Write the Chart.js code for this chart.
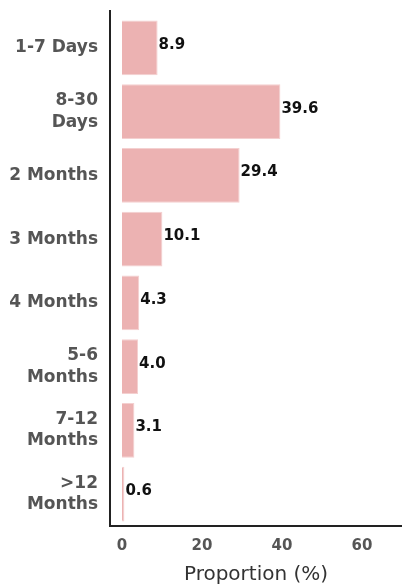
<!DOCTYPE html>
<html>
<head>
<meta charset="utf-8">
<script src="https://cdn.jsdelivr.net/npm/chart.js@4/dist/chart.umd.min.js"></script>
<style>
  html, body { margin: 0; padding: 0; background: #fff; }
  #wrap { width: 402px; height: 587px; position: relative; }
</style>
</head>
<body>
<div id="wrap"><canvas id="barChart"></canvas></div>
<script>
// data
var categories = [['1-7 Days'], ['8-30', 'Days'], ['2 Months'], ['3 Months'], ['4 Months'], ['5-6', 'Months'], ['7-12', 'Months'], ['>12', 'Months']];
var proportions = [8.9, 39.6, 29.4, 10.1, 4.3, 4.0, 3.1, 0.6];
var xTicks = [0, 20, 40, 60];

// value labels at the end of each bar
var valueLabels = {
  id: 'valueLabels',
  afterDatasetsDraw: function (chart) {
    var ctx = chart.ctx;
    var meta = chart.getDatasetMeta(0);
    ctx.save();
    ctx.fillStyle = '#111';
    ctx.font = 'bold 15px "DejaVu Sans"';
    ctx.textAlign = 'left';
    ctx.textBaseline = 'middle';
    meta.data.forEach(function (bar, i) {
      ctx.fillText(proportions[i].toFixed(1), bar.x + 1, bar.y - 3);
    });
    ctx.restore();
  }
};

// left axis line runs a bit above the plot area
var leftLine = {
  id: 'leftLine',
  afterDraw: function (chart) {
    var a = chart.chartArea;
    var ctx = chart.ctx;
    ctx.save();
    ctx.strokeStyle = '#222';
    ctx.lineWidth = 2;
    ctx.beginPath();
    ctx.moveTo(a.left, a.top - 6);
    ctx.lineTo(a.left, a.bottom);
    ctx.stroke();
    ctx.restore();
  }
};

var ctx = document.getElementById('barChart').getContext('2d');
new Chart(ctx, {
  type: 'bar',
  data: {
    labels: categories,
    datasets: [{
      data: proportions,
      backgroundColor: '#ecb2b2',
      borderColor: '#f4d0d0',
      borderWidth: 1,
      barPercentage: 0.86,
      categoryPercentage: 1
    }]
  },
  options: {
    indexAxis: 'y',
    responsive: true,
    maintainAspectRatio: false,
    animation: false,
    layout: { padding: 0 },
    plugins: {
      legend: { display: false },
      tooltip: { enabled: false }
    },
    scales: {
      x: {
        min: -3,
        max: 70,
        afterBuildTicks: function (axis) {
          axis.ticks = xTicks.map(function (v) { return { value: v }; });
        },
        afterFit: function (axis) {
          axis.height = 61;
          axis.paddingLeft = 0;
          axis.paddingRight = 0;
        },
        grid: { display: false, drawTicks: false },
        border: { display: true, color: '#222', width: 2 },
        ticks: {
          color: '#555',
          font: { family: 'DejaVu Sans', weight: 'bold', size: 15 },
          padding: 11
        },
        title: {
          display: true,
          text: 'Proportion (%)',
          color: '#333',
          font: { family: 'DejaVu Sans', size: 20 },
          padding: { top: 2, bottom: 0 }
        }
      },
      y: {
        afterFit: function (axis) {
          axis.width = 110;
          axis.paddingTop = 16;
          axis.paddingBottom = 0;
        },
        grid: { display: false, drawTicks: false },
        border: { display: true, color: '#222', width: 2 },
        ticks: {
          color: '#555',
          font: { family: 'DejaVu Sans', weight: 'bold', size: 17, lineHeight: 1.25 },
          padding: 12,
          autoSkip: false
        }
      }
    }
  },
  plugins: [valueLabels, leftLine]
});
</script>
</body>
</html>
